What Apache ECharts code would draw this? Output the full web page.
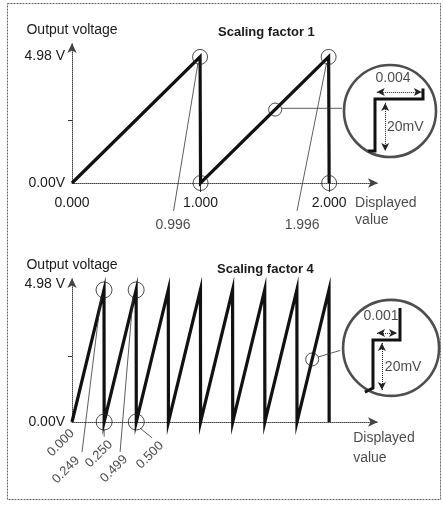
<!DOCTYPE html>
<html><head><meta charset="utf-8">
<script src="https://cdn.jsdelivr.net/npm/echarts@6/dist/echarts.min.js"></script>
<style>html,body{margin:0;padding:0;background:#fff}#c{width:443px;height:510px}</style>
</head><body><div id="c"></div>
<script>
// ---------- data ----------
const titles = ['Scaling factor 1', 'Scaling factor 4'];
const yName = 'Output voltage';
const yTickValues = [0, 4.98];
const yTickLabels = ['0.00V', '4.98 V'];
const yMidTick = [2.49];
const xTickValues1 = [0, 1, 2];

// sawtooth, scaling factor 1: [displayed value, volts]
const saw1 = [[0, 0], [0.996, 4.98], [1.000, 0], [1.996, 4.98], [2.000, 0]];
// sawtooth, scaling factor 4
const saw4 = [[0, 0], [0.249, 4.98], [0.250, 0], [0.499, 4.98], [0.500, 0],
  [0.749, 4.98], [0.750, 0], [0.999, 4.98], [1.000, 0], [1.249, 4.98], [1.250, 0],
  [1.499, 4.98], [1.500, 0], [1.749, 4.98], [1.750, 0], [1.999, 4.98], [2.000, 0]];

const circles1 = [[0.996, 4.98], [1.000, 0], [1.996, 4.98], [2.000, 0]];
const circles4 = [[0.249, 4.98], [0.250, 0], [0.499, 4.98], [0.500, 0]];
const marker1 = [[1.58, 2.9]];
const marker4 = [[1.868, 2.36]];

const leaders1 = [[[0.79, -1.1], [0.98, 4.74]], [[1.75, -1.1], [1.98, 4.74]], [[1.63, 2.95], [2.10, 2.95]]];
const leaders4 = [[[0.078, -1.13], [0.226, 4.72]], [[0.374, -1.13], [0.475, 4.72]],
  [[0.529, -0.23], [0.623, -0.6]], [[0.25, -0.27], [0.25, -0.55]], [[1.915, 2.45], [2.086, 2.7]]];

const valueLabels1 = [['0.996', 0.786, -1.66], ['1.996', 1.79, -1.66]];
const axisName1 = [['Displayed', 2.202, -0.79], ['value', 2.202, -1.46]];
const valueLabels4 = [['0.000', -0.086, -0.79], ['0.249', -0.047, -1.81], ['0.250', 0.21, -1.21],
  ['0.499', 0.327, -1.77], ['0.500', 0.607, -1.25]];
const axisName4 = [['Displayed', 2.187, -0.6], ['value', 2.187, -1.36]];

// insets: [thousandths of displayed value, mV]
const inset1Step = [[-0.6, 0], [0, 0], [0, 20], [4, 20], [4, 24]];
const inset1Circle = [[1.25, 15.4]];
const inset1HArrow = [[0.15, 22.7], [3.9, 22.7]];
const inset1VArrow = [[0.85, 18.5], [0.85, 0]];
const inset1Labels = [['0.004', 1.5, 28.1, 'center'], ['20mV', 1.0, 9.2, 'left']];

const inset2Step = [[-0.3, -1.7], [0, 0], [0, 20], [1, 20], [1, 33.3]];
const inset2Circle = [[0.67, 16.7]];
const inset2HArrow = [[0.15, 22.9], [0.89, 22.9]];
const inset2VArrow = [[0.33, 18.75], [0.33, -0.8]];
const inset2Labels = [['0.001', 0.3, 30, 'center'], ['20mV', 0.44, 8.75, 'left']];

// ---------- chart ----------
const FONT = 'Liberation Sans, Arial, sans-serif';
const INK = '#1a1a1a';
const chart = echarts.init(document.getElementById('c'), null, {renderer: 'canvas'});

function mainX(idx, showLabels) {
  return {
    type: 'value', gridIndex: idx, min: 0, max: 2.38,
    splitLine: {show: false},
    axisLine: {show: true, symbol: ['none', 'arrow'], symbolSize: [7, 10],
      lineStyle: {color: '#444', width: 1, type: 'dotted'}},
    axisTick: idx === 0 ? {show: true, customValues: [1, 2], length: 9, lineStyle: {color: '#333'}} : {show: false},
    axisLabel: showLabels ? {show: true, customValues: xTickValues1, margin: 13, fontSize: 14, color: INK,
      fontFamily: FONT, formatter: v => v.toFixed(3)} : {show: false}
  };
}
function mainY(idx, max, gap, liftTop) {
  return {
    type: 'value', gridIndex: idx, min: 0, max: max,
    name: yName, nameLocation: 'end', nameGap: gap,
    nameTextStyle: {fontSize: 14, color: INK, fontFamily: FONT, align: 'center'},
    splitLine: {show: false},
    axisLine: {show: true, symbol: ['none', 'arrow'], symbolSize: [7, 10],
      lineStyle: {color: '#444', width: 1, type: 'dotted'}},
    axisTick: {show: true, customValues: yMidTick, length: 4, lineStyle: {color: '#333'}},
    axisLabel: {show: true, customValues: yTickValues, margin: 7, fontSize: 14, color: INK, fontFamily: FONT,
      rich: {hi: {fontSize: 14, color: INK, fontFamily: FONT, padding: [0, 0, liftTop, 0]}},
      formatter: v => {
        const i = yTickValues.indexOf(Math.round(v * 100) / 100);
        if (i < 0) return '';
        return i === 1 ? '{hi|' + yTickLabels[i] + '}' : yTickLabels[i];
      }}
  };
}
function hiddenAxis(type, idx, min, max) {
  return {type: 'value', gridIndex: idx, min, max, show: false, splitLine: {show: false}};
}

const series = [];
function lineS(data, gi, width, color, type, z) {
  series.push({type: 'line', xAxisIndex: gi, yAxisIndex: gi, data, symbol: 'none', clip: false,
    silent: true, z: z || 2, lineStyle: {width, color, type: type || 'solid', cap: 'butt', join: 'miter'}});
}
function circlesS(data, gi, size, bw) {
  series.push({type: 'scatter', xAxisIndex: gi, yAxisIndex: gi, data, symbol: 'circle', symbolSize: size,
    clip: false, silent: true, z: 3,
    itemStyle: {color: 'rgba(0,0,0,0)', borderColor: '#222', borderWidth: bw}});
}
function textS(items, gi, opts) {
  series.push({type: 'scatter', xAxisIndex: gi, yAxisIndex: gi, symbolSize: 0, clip: false, silent: true, z: 4,
    data: items.map(t => ({name: t[0], value: [t[1], t[2]],
      label: {align: t[3] || (opts.align || 'center')}})),
    label: Object.assign({show: true, position: 'inside', formatter: '{b}', fontSize: 14, color: INK,
      fontFamily: FONT, verticalAlign: 'middle'}, opts)});
}
function arrowS(pts, gi) {
  series.push({type: 'line', xAxisIndex: gi, yAxisIndex: gi, data: [], symbol: 'none', silent: true,
    markLine: {silent: true, symbol: ['arrow', 'arrow'], symbolSize: [6, 8], label: {show: false},
      lineStyle: {color: '#222', width: 1, type: 'dotted'},
      data: [[{coord: pts[0]}, {coord: pts[1]}]]}});
}

// top chart
lineS(saw1, 0, 3.2, '#111');
leaders1.forEach(l => lineS(l, 0, 0.8, '#333'));
circlesS(circles1, 0, 15, 1);
circlesS(marker1, 0, 13, 1);
textS(valueLabels1, 0, {});
textS(axisName1, 0, {align: 'left'});
// bottom chart
lineS(saw4, 1, 3.2, '#111');
leaders4.forEach(l => lineS(l, 1, 0.8, '#333'));
circlesS(circles4, 1, 16, 1);
circlesS(marker4, 1, 13, 1);
textS(valueLabels4, 1, {rotate: 45, fontSize: 13});
textS(axisName4, 1, {align: 'left'});
// inset 1
circlesS(inset1Circle, 2, 92, 2.6);
lineS(inset1Step, 2, 3, '#111', 'solid', 3);
arrowS(inset1HArrow, 2);
arrowS(inset1VArrow, 2);
textS(inset1Labels, 2, {});
// inset 2
circlesS(inset2Circle, 3, 96, 2.6);
lineS(inset2Step, 3, 3, '#111', 'solid', 3);
arrowS(inset2HArrow, 3);
arrowS(inset2VArrow, 3);
textS(inset2Labels, 3, {});

chart.setOption({
  animation: false,
  backgroundColor: '#fff',
  textStyle: {fontFamily: FONT},
  title: [
    {text: titles[0], left: 218, top: 26, padding: 0, textStyle: {fontSize: 13, fontWeight: 'bold', color: INK, fontFamily: FONT}},
    {text: titles[1], left: 217, top: 263, padding: 0, textStyle: {fontSize: 13, fontWeight: 'bold', color: INK, fontFamily: FONT}}
  ],
  graphic: [{type: 'rect', shape: {x: 7.5, y: 3.5, width: 433, height: 496}, silent: true, z: -10,
    style: {fill: 'none', stroke: '#666', lineWidth: 1, lineDash: [2, 1]}}],
  grid: [
    {left: 72, top: 43, width: 306, height: 140},
    {left: 72, top: 278, width: 306, height: 144},
    {left: 340, top: 60, width: 100, height: 100},
    {left: 335, top: 295, width: 108, height: 110}
  ],
  xAxis: [mainX(0, true), mainX(1, false), hiddenAxis('x', 2, -2.917, 5.417), hiddenAxis('x', 3, -1.407, 2.593)],
  yAxis: [mainY(0, 5.53, 6, 2), mainY(1, 5.43, 6, 12), hiddenAxis('y', 2, -3.46, 35.0), hiddenAxis('y', 3, -7.083, 38.75)],
  series
});
</script></body></html>
